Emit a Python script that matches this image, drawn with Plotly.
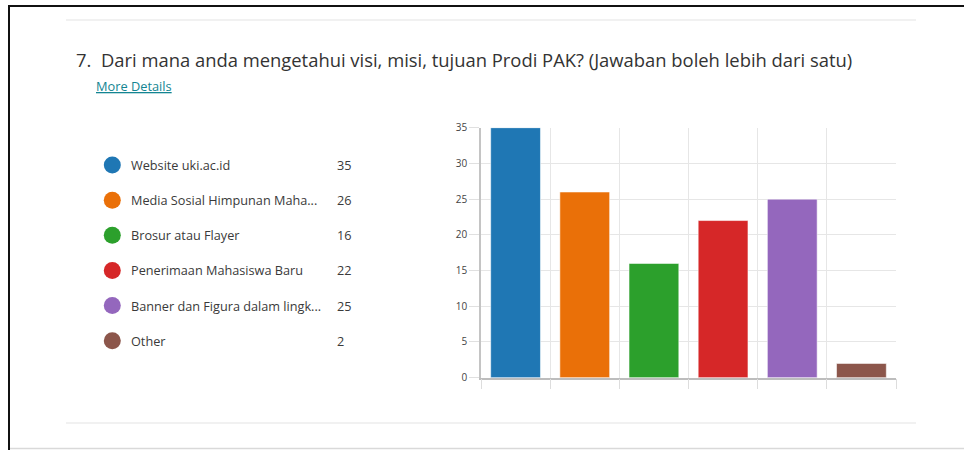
import plotly.graph_objects as go

# ---- data ----
categories = ["Website uki.ac.id", "Media Sosial Himpunan Maha...", "Brosur atau Flayer",
              "Penerimaan Mahasiswa Baru", "Banner dan Figura dalam lingk...", "Other"]
counts = [35, 26, 16, 22, 25, 2]
colors = ["#1f77b4", "#ea7008", "#2ca02c", "#d62728", "#9467bd", "#8c564b"]
y_ticks = [0, 5, 10, 15, 20, 25, 30, 35]
title_text = "7.\u00a0 Dari mana anda mengetahui visi, misi, tujuan Prodi PAK? (Jawaban boleh lebih dari satu)"
link_text = "More Details"

W, H = 964, 450
FONT = "Open Sans"

def px(x):
    return x / W

def py(y):
    return 1 - y / H

fig = go.Figure()

# bars
fig.add_trace(go.Bar(
    x=categories, y=counts,
    marker=dict(color=colors, line=dict(color="rgba(255,255,255,0.55)", width=1)),
    width=0.72, showlegend=False, hoverinfo="x+y",
    xaxis="x", yaxis="y",
))

# legend circles on a helper axis
idx = list(range(len(categories)))
fig.add_trace(go.Scatter(
    x=[112.3] * len(categories), y=idx, mode="markers",
    marker=dict(size=17, color=colors, line=dict(width=0)),
    showlegend=False, hoverinfo="skip", xaxis="x2", yaxis="y2",
))

annotations = []
for i, (c, n) in enumerate(zip(categories, counts)):
    annotations.append(dict(x=128.5, y=i, xref="x2", yref="y2", text=c, showarrow=False,
                            xanchor="left", yanchor="middle",
                            font=dict(family=FONT, size=12.7, color="#3a3a3a")))
    annotations.append(dict(x=335, y=i, xref="x2", yref="y2", text=str(n), showarrow=False,
                            xanchor="left", yanchor="middle",
                            font=dict(family=FONT, size=12.7, color="#3a3a3a")))

annotations.append(dict(x=px(73.5), y=py(59), xref="paper", yref="paper", text=title_text,
                        showarrow=False, xanchor="left", yanchor="middle",
                        font=dict(family=FONT, size=18.4, color="#333333")))
annotations.append(dict(x=px(94), y=py(86), xref="paper", yref="paper", text="<u>" + link_text + "</u>",
                        showarrow=False, xanchor="left", yanchor="middle",
                        font=dict(family=FONT, size=12.8, color="#138592")))

shapes = [
    # frame
    dict(type="line", xref="paper", yref="paper", x0=px(8), x1=1, y0=py(6), y1=py(6),
         line=dict(color="#111111", width=2)),
    dict(type="line", xref="paper", yref="paper", x0=px(9), x1=px(9), y0=py(5), y1=0,
         line=dict(color="#111111", width=2)),
    dict(type="line", xref="paper", yref="paper", x0=px(10), x1=1, y0=py(448.5), y1=py(448.5),
         line=dict(color="#d9d9d9", width=1.5)),
    # separators
    dict(type="line", xref="paper", yref="paper", x0=px(66), x1=px(916), y0=py(20), y1=py(20),
         line=dict(color="#ececec", width=1.5)),
    dict(type="line", xref="paper", yref="paper", x0=px(66), x1=px(916), y0=py(423), y1=py(423),
         line=dict(color="#ececec", width=1.5)),
]

fig.update_layout(
    template="none",
    width=W, height=H,
    margin=dict(l=0, r=0, t=0, b=0, pad=0, autoexpand=False),
    paper_bgcolor="white", plot_bgcolor="white",
    bargap=0.28,
    xaxis=dict(domain=[px(481), px(896)], type="category", tickson="boundaries",
               showticklabels=False, ticks="outside", ticklen=10, tickcolor="#dddddd",
               showgrid=True, gridcolor="#e6e6e6", gridwidth=1,
               showline=True, linecolor="#bdbdbd", linewidth=1.5, zeroline=False,
               automargin=False, fixedrange=True),
    yaxis=dict(domain=[py(377.7), py(127.7)], range=[0, 35], tickvals=y_ticks,
               ticks="outside", ticklen=10, tickcolor="#e0e0e0",
               showgrid=True, gridcolor="#e6e6e6", gridwidth=1,
               showline=True, linecolor="#c4c4c4", linewidth=1.5, zeroline=False,
               tickfont=dict(family=FONT, size=10, color="#444444"), ticklabelstandoff=0,
               automargin=False, fixedrange=True),
    xaxis2=dict(domain=[0, 0.45], range=[0, 0.45 * W], visible=False, fixedrange=True,
                automargin=False),
    yaxis2=dict(domain=[py(358.25), py(147.45)], range=[5.5, -0.5], visible=False,
                anchor="x2", fixedrange=True, automargin=False),
    annotations=annotations,
    shapes=shapes,
    font=dict(family=FONT),
)

fig.write_html(
    "out.html",
    config={"displayModeBar": False},
    post_script=("document.documentElement.style.margin='0';"
                 "document.body.style.margin='0';"
                 "document.body.style.overflow='hidden';"
                 "document.documentElement.style.overflow='hidden';"),
)
